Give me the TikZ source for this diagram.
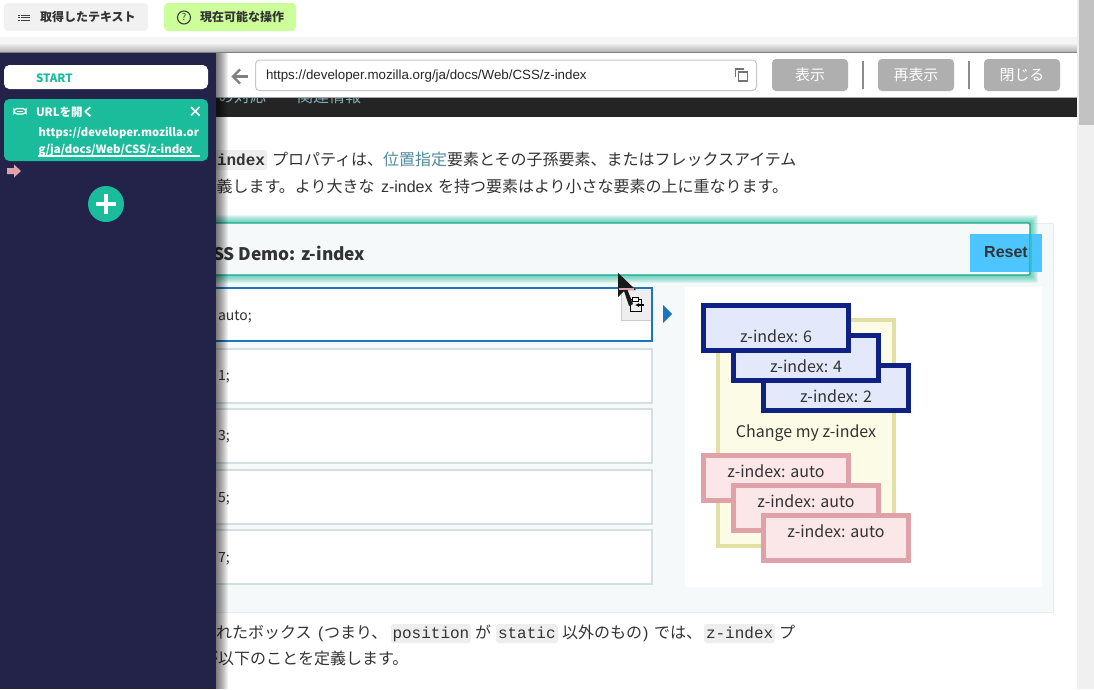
\documentclass[tikz,border=0pt]{standalone}
\usepackage{fontspec}
\usetikzlibrary{arrows.meta}
\setmainfont{Noto Sans CJK JP}
\newfontfamily\arialf{Liberation Sans}
\newfontfamily\monof{Liberation Mono}
\newcommand{\fsx}[1]{\fontsize{#1}{#1}\selectfont}
\definecolor{navy}{HTML}{232249}
\definecolor{teal1}{HTML}{1ABC9C}
\definecolor{ink}{HTML}{333333}
\definecolor{demobg}{HTML}{F5F9FA}
\definecolor{boxblue}{HTML}{0F2283}
\definecolor{fillblue}{HTML}{E3E8FA}
\definecolor{boxpink}{HTML}{E0A2A9}
\definecolor{fillpink}{HTML}{FBE6E8}
\definecolor{boxyel}{HTML}{E2E0A3}
\definecolor{fillyel}{HTML}{FBFBE6}
\definecolor{btn}{HTML}{AFAFAF}
\definecolor{linkc}{HTML}{4D8A9A}
\definecolor{choice}{HTML}{D5DFE0}
\definecolor{codebg}{HTML}{EEEEEE}
\definecolor{lgreen}{HTML}{CCFF99}
\definecolor{resetc}{HTML}{4DC6FF}
\definecolor{activeb}{HTML}{1B76C1}
\tikzset{
  txt/.style={anchor=base west,inner sep=0pt,outer sep=0pt,text=ink,font=\fsx{12}},
  ctxt/.style={anchor=base,inner sep=0pt,outer sep=0pt,text=ink,font=\fsx{12}},
  mono/.style={txt,font=\monof\fsx{12}},
  zblue/.style={draw=boxblue,fill=fillblue,line width=3.4pt},
  zpink/.style={draw=boxpink,fill=fillpink,line width=3.4pt},
  graybtn/.style={fill=btn,rounded corners=3pt},
  btntxt/.style={ctxt,text=white,font=\fsx{11.2}},
  choicebox/.style={draw=choice,fill=white,line width=1.5pt}
}
\begin{document}
\begin{tikzpicture}[x=0.75pt,y=-0.75pt]
\useasboundingbox (0,0) rectangle (1094,689);
\fill[white] (0,0) rectangle (1094,689);
% top bar
\fill[codebg!80!white,rounded corners=3pt] (4,3) rectangle (148,31);
\fill[lgreen,rounded corners=3pt] (164,3) rectangle (296,31);
\foreach \yy in {14.5,17,19.5}{\fill[black!75] (18,\yy) rectangle (19.5,\yy+1.2); \fill[black!75] (21,\yy) rectangle (30,\yy+1.2);}
\node[txt,font=\bfseries\fsx{9}] (tA) at (40,21.5) {取得したテキスト};
\draw[black!80,line width=0.8pt] (184,17.5) circle (6.5);
\node[ctxt,font=\fsx{7}] (tQ) at (184,20.2) {?};
\node[txt,font=\bfseries\fsx{9}] (tB) at (200,21.5) {現在可能な操作};
% top shadow
\fill[black,opacity=0.04] (0,37) rectangle (1077,52);
\foreach \i in {0,...,7}{\fill[black,opacity=0.03] (0,44+\i) rectangle (1077,52);}
\fill[black!50] (0,51.5) rectangle (1077,53);
% scrollbar
\fill[black!6] (1077,0) rectangle (1094,689);
\fill[black!24] (1079,0) rectangle (1094,125);
% page
\fill[white] (0,53) rectangle (1077,689);
% dark band
\fill[black!86] (216,97) rectangle (1077,117);
\begin{scope}
\clip (216,98) rectangle (1077,104);
\node[txt,text=linkc!70!white] (sl1) at (218,102) {の対応};
\node[txt,text=linkc!70!white] (sl2) at (297,102) {関連情報};
\end{scope}
% browser bar
\fill[white] (216,53) rectangle (1077,97);
\fill[black!35] (216,96.5) rectangle (1077,97.5);
\draw[black!50,line width=1.6pt] (248,76.5) -- (234,76.5);
\draw[black!50,line width=1.6pt] (240,69.5) -- (233,76.5) -- (240,83.5);
\draw[black!22,fill=white,line width=0.75pt,rounded corners=3pt] (255.5,60) rectangle (756.5,90.5);
\node[txt,font=\arialf\fsx{10},text=black!85] (url) at (266,79.5) {https://developer.mozilla.org/ja/docs/Web/CSS/z-index};
\draw[black!55,line width=0.8pt] (735.5,77) -- (735.5,69) -- (744,69);
\draw[black!55,line width=0.8pt] (738.5,72) rectangle (747.5,81);
\fill[graybtn] (772,59) rectangle (848,91);
\fill[graybtn] (878,59) rectangle (954,91);
\fill[graybtn] (984,59) rectangle (1060,91);
\node[btntxt] (b1) at (810,80) {表示};
\node[btntxt] (b2) at (916,80) {再表示};
\node[btntxt] (b3) at (1022,80) {閉じる};
\fill[black!45] (862,61) rectangle (864,89);
\fill[black!45] (968,61) rectangle (970,89);
% paragraph
\fill[codebg,rounded corners=2pt] (210,150) rectangle (267,170);
\node[mono,font=\monof\bfseries\fsx{12}] (p1a) at (217,165) {index};
\node[txt] (p1b) at (272,165.5) {プロパティは、};
\node[txt,text=linkc] (p1c) at (383,165.5) {位置指定};
\node[txt] (p1d) at (447,165.5) {要素とその子孫要素、またはフレックスアイテム};
\node[txt] (p2a) at (200.5,192.5) {定義します。より大きな};
\node[txt,font=\arialf\fsx{12}] (p2b) at (381,192.5) {z-index};
\node[txt] (p2c) at (438,192.5) {を持つ要素はより小さな要素の上に重なります。};
% demo panel
\draw[demobg!95!black,fill=demobg,line width=0.75pt] (200,223.5) rectangle (1053,612);
\fill[white] (685,287) rectangle (1042,587);
% choices
\draw[choicebox] (200,349) rectangle (652,403);
\draw[choicebox] (200,409) rectangle (652,463);
\draw[choicebox] (200,470) rectangle (652,524);
\draw[choicebox] (200,530) rectangle (652,584);
\draw[draw=activeb,line width=1.5pt,fill=white] (200,288) rectangle (652,341);
\fill[codebg] (621.5,289) rectangle (651,320);
\draw[black!20,line width=0.6pt] (651,320) -- (621.5,320) -- (621.5,290);
\node[txt,font=\fsx{10.5}] (c0) at (218,320) {auto;};
\node[txt,font=\fsx{10.5}] (c1) at (218,380) {1;};
\node[txt,font=\fsx{10.5}] (c2) at (218,440) {3;};
\node[txt,font=\fsx{10.5}] (c3) at (218,502) {5;};
\node[txt,font=\fsx{10.5}] (c4) at (218,562) {7;};
\fill[activeb] (663,305) -- (672,314) -- (663,323) -- cycle;
% z-index demo
\draw[draw=boxyel,fill=fillyel,line width=3pt] (718,320) rectangle (894,546);
\draw[zblue] (763.5,365.5) rectangle (908.5,410.5);
\draw[zblue] (733.5,335.5) rectangle (878.5,380.5);
\draw[zblue] (703.5,305.5) rectangle (848.5,350.5);
\node[ctxt] (z6) at (776,342) {z-index: 6};
\node[ctxt] (z4) at (806,372) {z-index: 4};
\node[ctxt] (z2) at (836,402) {z-index: 2};
\node[ctxt] (zc) at (806,437) {Change my z-index};
\draw[zpink] (703.5,455.5) rectangle (848.5,500.5);
\draw[zpink] (733.5,485.5) rectangle (878.5,530.5);
\draw[zpink] (763.5,515.5) rectangle (908.5,560.5);
\node[ctxt] (za) at (776,477) {z-index: auto};
\node[ctxt] (zb) at (806,507) {z-index: auto};
\node[ctxt] (zd) at (836,537) {z-index: auto};
% reset
\fill[resetc] (970,234) rectangle (1042,272);
% header glow
\foreach \i in {8,7,...,1}{\fill[teal1,opacity=0.11] (216-\i,223-\i) rectangle (1030+\i,275+\i);}
\fill[demobg] (216,223) rectangle (970,275);
\fill[resetc] (970,234) rectangle (1030,272);
\fill[demobg] (970,223) rectangle (1030,234);
\fill[demobg] (970,272) rectangle (1030,275);
\fill[resetc] (1030,234) rectangle (1042,272);
\draw[teal1!90!black,line width=0.9pt,rounded corners=1pt] (200,223) rectangle (1030,275);
\fill[teal1!50!resetc] (1030,234) rectangle (1032,272);
\node[ctxt,font=\arialf\bfseries\fsx{12}] (rs) at (1006,257.5) {Reset};
\node[txt,font=\bfseries\fsx{13}] (dm) at (202,260) {CSS Demo: z-index};
% lower paragraph
\fill[codebg,rounded corners=2pt] (391,624) rectangle (471,643);
\fill[codebg,rounded corners=2pt] (496,624) rectangle (558,643);
\fill[codebg,rounded corners=2pt] (704,624) rectangle (775,643);
\node[txt] (q1) at (216,638.5) {れたボックス};
\node[txt,font=\arialf\fsx{12}] (q1b) at (318,638.5) {(};
\node[txt] (q1c) at (324,638.5) {つまり、};
\node[mono] (q2) at (392.5,638) {position};
\node[txt] (q3) at (475,638.5) {が};
\node[mono] (q4) at (498,638) {static};
\node[txt] (q5) at (562,638.5) {以外のもの};
\node[txt,font=\arialf\fsx{12}] (q5b) at (643,638.5) {)};
\node[txt] (q5c) at (654,638.5) {では、};
\node[mono] (q6) at (706,638) {z-index};
\node[txt] (q7) at (779,638.5) {プ};
\node[txt] (q8) at (202,664.5) {が以下のことを定義します。};
% copy icon
\draw[black,line width=0.7pt] (630,299) rectangle (641,311);
\fill[white] (632,299) rectangle (639,302);
\draw[black,line width=0.7pt] (632.5,297) rectangle (638.5,301);
\draw[black,line width=1pt,-{Latex[length=3pt,width=3pt]}] (644,305) -- (635,305);
% cursor
\fill[black!90] (618,273) -- (636,290) -- (627.5,290) -- (633,304) -- (629,306) -- (624,291) -- (618,297) -- cycle;
\fill[boxpink] (619,288) rectangle (634,289.5);
% left shadow
\foreach \i in {0,...,11}{\fill[black,opacity=0.055] (216,53) rectangle (228-\i,689);}
% left panel
\fill[navy] (0,53) rectangle (216,689);
\fill[white,rounded corners=4pt] (4,65) rectangle (208,89);
\node[txt,text=teal1,font=\bfseries\fsx{8.6}] (st) at (36,82) {START};
\fill[teal1,rounded corners=4pt] (4,99) rectangle (208,161);
\draw[white,line width=1pt,rounded corners=2.5pt] (14,108.5) rectangle (26,114);
\draw[white,line width=0.9pt] (17,111.2) -- (23,111.2);
\node[txt,text=white,font=\bfseries\fsx{8.6}] (ur) at (36,116) {URLを開く};
\draw[white,line width=1.3pt] (191,107) -- (199.5,115.5);
\draw[white,line width=1.3pt] (191,115.5) -- (199.5,107);
\node[txt,text=white,font=\bfseries\fsx{8.4}] (u1) at (38.5,136) {https://developer.mozilla.or};
\node[txt,text=white,font=\bfseries\fsx{8.5}] (u2) at (38.5,153) {g/ja/docs/Web/CSS/z-index};
\fill[white] (38,155) rectangle (200,157);
\fill[boxpink] (7,168) -- (14,168) -- (14,164.5) -- (21,171) -- (14,177.5) -- (14,174) -- (7,174) -- cycle;
\fill[teal1] (106,204) circle (18);
\fill[white] (96,202) rectangle (116,206);
\fill[white] (104,194) rectangle (108,214);
\end{tikzpicture}
\end{document}
